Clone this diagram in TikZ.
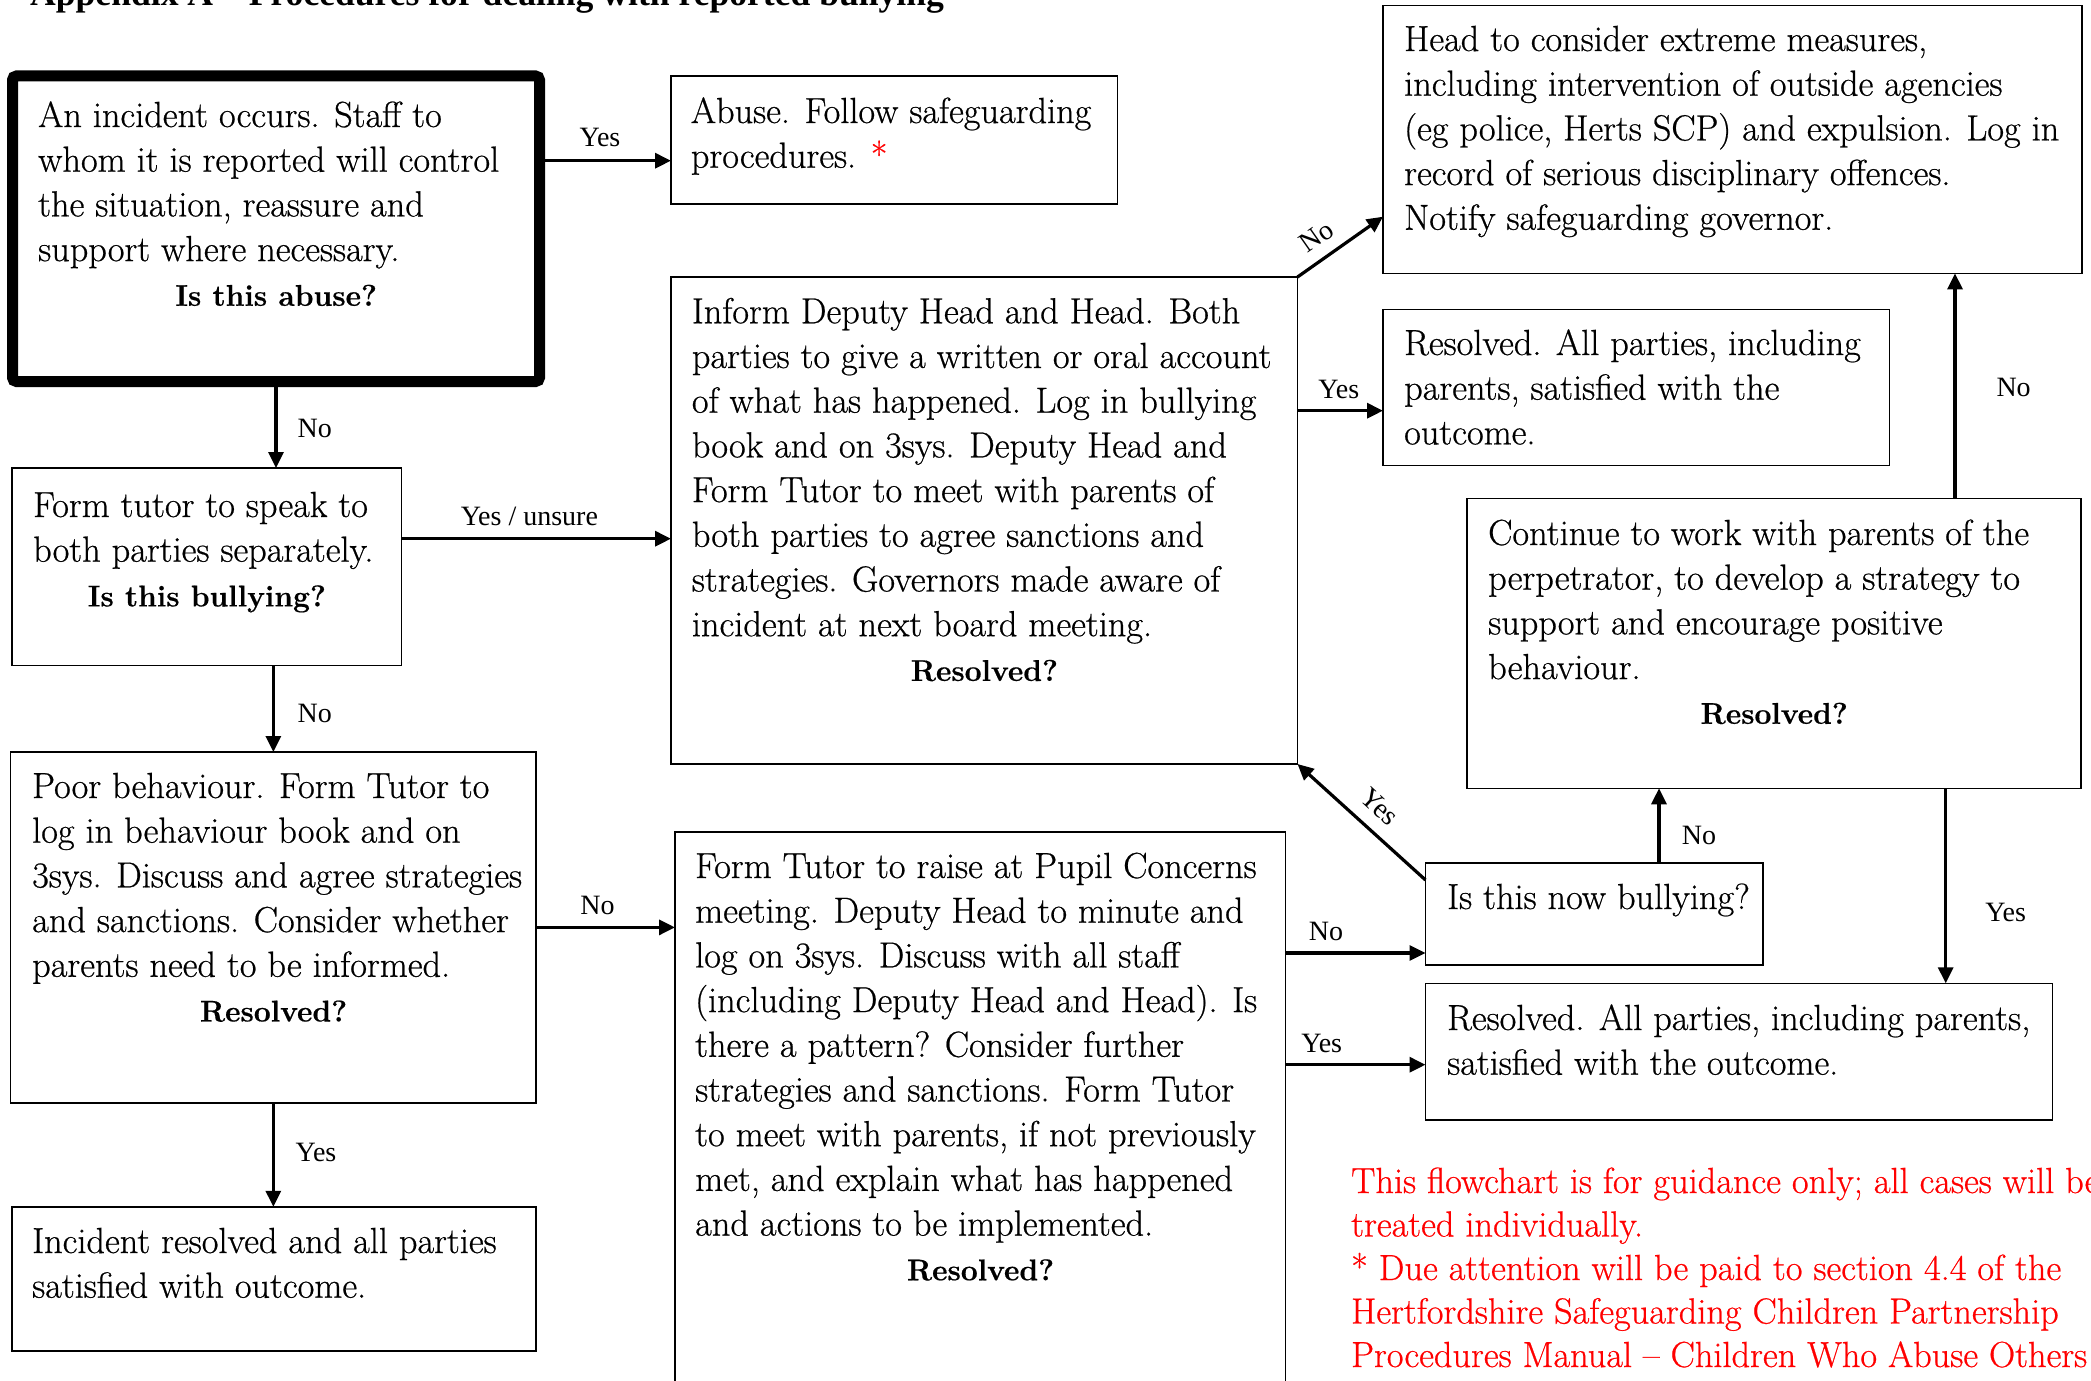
\documentclass[tikz,border=0pt]{standalone}
\usepackage{fontspec}
\setmainfont{Latin Modern Roman}[UprightFeatures={FakeBold=0.6}, BoldFeatures={FakeBold=0.5}]
\newfontfamily\labfont{Liberation Serif}
\usetikzlibrary{arrows.meta}
\newcommand\bq[1]{\par\centerline{\fontsize{30}{44.7}\selectfont\bfseries #1}}
\newcommand\mybox[6]{\node[#6, minimum width={(#4-#2)*1pt}, minimum height={(#5-#3)*1pt}] (#1) at (#2,#3) {};}
\tikzset{
 box/.style={draw, line width=1.4pt, anchor=north west, inner sep=0pt, outer sep=0pt},
 thickbox/.style={draw, line width=11pt, rounded corners=4pt, anchor=north west, inner sep=0pt, outer sep=0pt},
 txt/.style={anchor=base west, inner sep=0pt, font=\fontsize{36.3}{44.7}\selectfont},
 redtxt/.style={anchor=base west, inner sep=0pt, text=red, font=\fontsize{36.3}{43.5}\selectfont},
 lab/.style={anchor=base, inner sep=0pt, font=\labfont\fontsize{28}{30}\selectfont},
 arr/.style={line width=3.2pt, -{Triangle[length=16pt,width=15pt]}},
}
\begin{document}
\begin{tikzpicture}[x=1pt,y=-1pt]
\useasboundingbox (0,0) rectangle (2091,1381);
\fill[white] (0,0) rectangle (2091,1381);
\clip (0,0) rectangle (2091,1381);

% title
\node[anchor=base west, inner sep=0pt, font=\labfont\bfseries\fontsize{35.6}{40}\selectfont] (title) at (30,6) {Appendix A – Procedures for dealing with reported bullying};

% boxes
\mybox{A}{12.5}{76}{539.5}{381.5}{thickbox}
\mybox{B}{671}{76}{1117.5}{204}{box}
\mybox{C}{1383}{5.3}{2082}{273.4}{box}
\mybox{D}{671}{277}{1297.5}{764}{box}
\mybox{E}{1383}{309.4}{1889.6}{465.4}{box}
\mybox{F}{12}{468}{401.4}{665.4}{box}
\mybox{G}{1467}{498.7}{2081}{788.3}{box}
\mybox{H}{10.7}{752}{536}{1102.8}{box}
\mybox{I}{675}{832}{1285.7}{1420}{box}
\mybox{J}{1425.5}{862.8}{1763}{965}{box}
\mybox{K}{1425.5}{983.3}{2052.3}{1120.1}{box}
\mybox{L}{12}{1206.8}{536}{1350.8}{box}

% texts
\node[txt] (At) at (38,127) {\parbox[t]{476pt}{\mbox{An incident occurs. Staff to}\\\mbox{whom it is reported will control}\\\mbox{the situation, reassure and}\\\mbox{support where necessary.}\bq{Is this abuse?}}};
\node[txt] (Bt) at (690.7,123) {\parbox[t]{420pt}{\mbox{Abuse. Follow safeguarding}\\\mbox{procedures. {\color{red}*}}}};
\node[txt] (Ct) at (1404,51) {\parbox[t]{660pt}{\mbox{Head to consider extreme measures,}\\\mbox{including intervention of outside agencies}\\\mbox{(eg police, Herts SCP) and expulsion. Log in}\\\mbox{record of serious disciplinary offences.}\\\mbox{Notify safeguarding governor.}}};
\node[txt] (Dt) at (691.7,323.3) {\parbox[t]{585pt}{\mbox{Inform Deputy Head and Head. Both}\\\mbox{parties to give a written or oral account}\\\mbox{of what has happened. Log in bullying}\\\mbox{book and on 3sys. Deputy Head and}\\\mbox{Form Tutor to meet with parents of}\\\mbox{both parties to agree sanctions and}\\\mbox{strategies. Governors made aware of}\\\mbox{incident at next board meeting.}\bq{Resolved?}}};
\node[txt] (Et) at (1404,355) {\parbox[t]{480pt}{\mbox{Resolved. All parties, including}\\\mbox{parents, satisfied with the}\\\mbox{outcome.}}};
\node[txt] (Ft) at (33,517) {\parbox[t]{347.4pt}{\mbox{Form tutor to speak to}\\\mbox{both parties separately.}\bq{Is this bullying?}}};
\node[txt] (Gt) at (1488,545) {\parbox[t]{572pt}{\mbox{Continue to work with parents of the}\\\mbox{perpetrator, to develop a strategy to}\\\mbox{support and encourage positive}\\\mbox{behaviour.}\bq{Resolved?}}};
\node[txt] (Ht) at (32,798) {\parbox[t]{482.7pt}{\mbox{Poor behaviour. Form Tutor to}\\\mbox{log in behaviour book and on}\\\mbox{3sys. Discuss and agree strategies}\\\mbox{and sanctions. Consider whether}\\\mbox{parents need to be informed.}\bq{Resolved?}}};
\node[txt] (It) at (695,878) {\parbox[t]{570.7pt}{\mbox{Form Tutor to raise at Pupil Concerns}\\\mbox{meeting. Deputy Head to minute and}\\\mbox{log on 3sys. Discuss with all staff}\\\mbox{(including Deputy Head and Head). Is}\\\mbox{there a pattern? Consider further}\\\mbox{strategies and sanctions. Form Tutor}\\\mbox{to meet with parents, if not previously}\\\mbox{met, and explain what has happened}\\\mbox{and actions to be implemented.}\bq{Resolved?}}};
\node[txt] (Jt) at (1447,909) {Is this now bullying?};
\node[txt] (Kt) at (1447,1030) {\parbox[t]{600pt}{\mbox{Resolved. All parties, including parents,}\\\mbox{satisfied with the outcome.}}};
\node[txt] (Lt) at (32,1253) {\parbox[t]{480pt}{\mbox{Incident resolved and all parties}\\\mbox{satisfied with outcome.}}};
\node[redtxt] (note) at (1351,1193) {\parbox[t]{900pt}{\mbox{This flowchart is for guidance only; all cases will be}\\\mbox{treated individually.}\\\mbox{* Due attention will be paid to section 4.4 of the}\\\mbox{Hertfordshire Safeguarding Children Partnership}\\\mbox{Procedures Manual – Children Who Abuse Others}}};

% connectors
\coordinate (yAB) at (0,160.7);
\coordinate (yFD) at (0,538.7);
\coordinate (yDC) at (0,216.7);
\coordinate (yDE) at (0,410.7);
\coordinate (yIJ) at (0,953);
\coordinate (yIK) at (0,1064.7);
\coordinate (yJD) at (0,880);
\coordinate (xJG) at (1659,0);
\coordinate (xGC) at (1955,0);
\coordinate (xGK) at (1945.7,0);
\draw[arr] (A.east |- yAB) -- (B.west |- yAB);
\draw[arr] (A.south) -- (A.south |- F.north);
\draw[arr] (F.east |- yFD) -- (D.west |- yFD);
\draw[arr] (F.south -| H.north) -- (H.north);
\draw[arr] (H.east) -- (H.east -| I.west);
\draw[arr] (H.south) -- (H.south |- L.north);
\draw[arr] (D.north east) -- (C.west |- yDC);
\draw[arr] (D.east |- yDE) -- (E.west |- yDE);
\draw[arr] (I.east |- yIJ) -- (J.west |- yIJ);
\draw[arr] (I.east |- yIK) -- (K.west |- yIK);
\draw[arr] (J.west |- yJD) -- (D.south east);
\draw[arr] (J.north -| xJG) -- (G.south -| xJG);
\draw[arr] (G.north -| xGC) -- (C.south -| xGC);
\draw[arr] (G.south -| xGK) -- (K.north -| xGK);

% labels
\node[lab] (lAB) at (600,146) {Yes};
\node[lab] (lAF) at (314.7,437) {No};
\node[lab] (lFD) at (529.4,525) {Yes / unsure};
\node[lab] (lFH) at (314.7,722) {No};
\node[lab] (lHI) at (597.4,914) {No};
\node[lab] (lHL) at (316,1161) {Yes};
\node[lab, anchor=center, rotate=35] (lDC) at (1316.7,236.7) {No};
\node[lab] (lDE) at (1338.8,398) {Yes};
\node[lab] (lIJ) at (1326,940.7) {No};
\node[lab] (lIK) at (1321.7,1052) {Yes};
\node[lab, anchor=center, rotate=-43] (lJD) at (1380,806.7) {Yes};
\node[lab] (lJG) at (1699,844) {No};
\node[lab] (lGC) at (2013.6,396) {No};
\node[lab] (lGK) at (2005.6,921) {Yes};
\end{tikzpicture}
\end{document}
